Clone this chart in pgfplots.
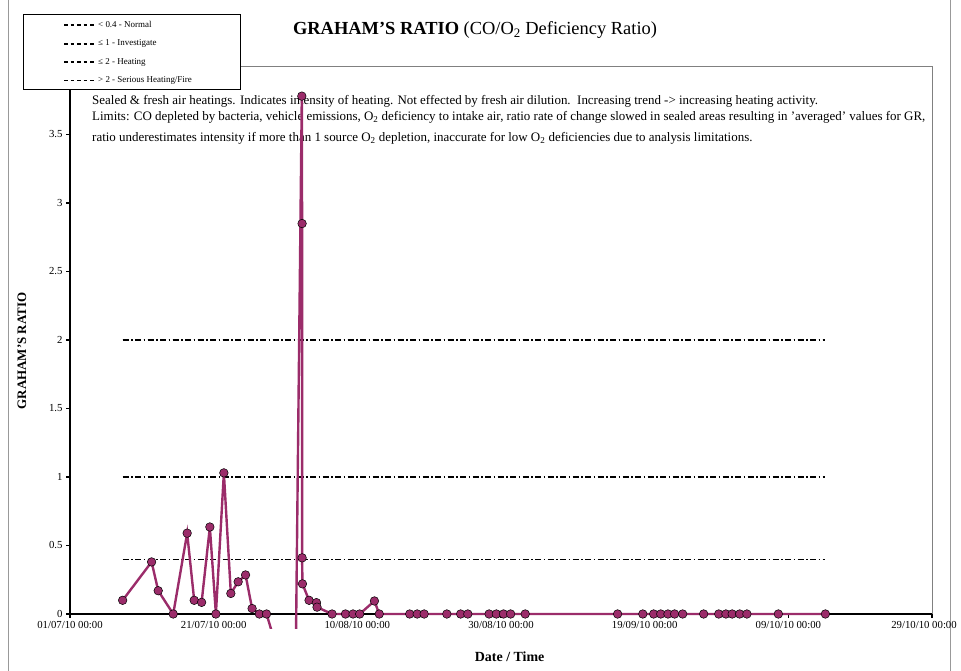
\documentclass[border=0pt]{standalone}
\usepackage{pgfplots}
\pgfplotsset{compat=1.18}
\usepackage{fontspec}
\setmainfont{Liberation Serif}
\definecolor{plum}{HTML}{9B2C6A}
\pgfplotstableread{
x y
7.33 0.10
11.36 0.38
12.28 0.17
14.37 0
16.31 0.59
17.29 0.10
18.32 0.085
19.47 0.635
20.31 0
21.42 1.03
22.39 0.15
23.41 0.235
24.44 0.285
25.35 0.04
26.36 0
27.36 0
31.35 -0.70
32.27 3.78
32.31 2.85
32.31 0.41
32.36 0.22
33.28 0.10
34.31 0.083
34.39 0.05
36.48 0
38.35 0
39.40 0
40.33 0
42.38 0.095
43.05 0
47.29 0
48.33 0
49.30 0
52.46 0
54.38 0
55.38 0
58.34 0
59.35 0
60.35 0
61.34 0
63.37 0
76.23 0
79.74 0
81.25 0
82.24 0
83.24 0
84.17 0
85.29 0
88.21 0
90.31 0
91.31 0
92.18 0
93.23 0
94.23 0
98.61 0
105.16 0
}\grdata
\begin{document}
\begin{tikzpicture}[x=1bp,y=1bp]
\path[use as bounding box] (0,0) rectangle (961,671);
\draw[gray!80, line width=0.8bp] (8,0) -- (8,671);
\draw[gray!80, line width=0.8bp] (950,0) -- (950,671);
\begin{scope}[every node/.style={anchor=base west, inner sep=0pt, font=\fontsize{13}{15}\selectfont}]
\node at (92,566.5) {Sealed \& fresh air heatings. Indicates intensity of heating. Not effected by fresh air dilution.\ \ Increasing trend -> increasing heating activity.};
\node at (92,550.5) {Limits: CO depleted by bacteria, vehicle emissions, O\textsubscript{2} deficiency to intake air, ratio rate of change slowed in sealed areas resulting in 'averaged' values for GR,};
\node at (92,529) {ratio underestimates intensity if more than 1 source O\textsubscript{2} depletion, inaccurate for low O\textsubscript{2} deficiencies due to analysis limitations.};
\end{scope}
\node[font=\fontsize{18.5}{21}\selectfont] at (475,641) {\textbf{GRAHAM'S RATIO} (CO/O\textsubscript{2} Deficiency Ratio)};
\begin{axis}[
  at={(70bp,57bp)}, anchor=south west,
  scale only axis, width=862bp, height=548bp,
  xmin=0, xmax=120, ymin=0, ymax=4,
  clip=false,
  axis lines=left,
  axis line style={-, black, line width=2.6bp},
  x axis line style={-}, y axis line style={-},
  xtick={0,20,...,120},
  xticklabels={01/07/10 00:00, 21/07/10 00:00, 10/08/10 00:00, 30/08/10 00:00, 19/09/10 00:00, 09/10/10 00:00, 29/10/10 00:00\hspace*{16bp}},
  ytick={0,0.5,...,3.5},
  tick align=outside,
  major tick length=4bp,
  tick style={black, line width=1.4bp},
  /pgf/number format/assume math mode=true,
  ticklabel style={font=\fontsize{10.8}{12}\selectfont},
  ylabel={\textbf{GRAHAM'S RATIO}},
  ylabel style={at={(axis description cs:-0.0557,0.48)}, anchor=center, font=\fontsize{13}{15}\selectfont},
  xlabel={\textbf{Date / Time}},
  xlabel style={at={(axis description cs:0.51,-0.0785)}, anchor=center, font=\fontsize{14}{16}\selectfont},
  legend style={at={(axis description cs:-0.0081,1.0840)}, anchor=north west, draw=none, fill=none,
    inner sep=0pt, row sep=9bp, font=\fontsize{9}{10}\selectfont,
    nodes={inner sep=1bp}},
  legend cell align=left,
  /tikz/every even column/.append style={column sep=14bp},
]
\addplot[black, line width=1.3bp, dash pattern=on 6bp off 2.5bp on 1.5bp off 2.5bp,
  legend image code/.code={\draw[black,line width=1.1bp,dash pattern=on 3.5bp off 3bp] (0bp,0bp)--(32bp,0bp);}]
  coordinates {(7.33,0.4) (105.16,0.4)};
\addlegendentry{< 0.4 - Normal}
\addplot[black, line width=1.3bp, dash pattern=on 6bp off 2.5bp on 1.5bp off 2.5bp,
  legend image code/.code={\draw[black,line width=2bp,dash pattern=on 3.5bp off 3bp] (0bp,0bp)--(32bp,0bp);}]
  coordinates {(7.33,1) (105.16,1)};
\addlegendentry{≤ 1 - Investigate}
\addplot[black, line width=1.3bp, dash pattern=on 6bp off 2.5bp on 1.5bp off 2.5bp,
  legend image code/.code={\draw[black,line width=2bp,dash pattern=on 3.5bp off 3bp] (0bp,0bp)--(32bp,0bp);}]
  coordinates {(7.33,2) (105.16,2)};
\addlegendentry{≤ 2 - Heating}
\addplot[black, line width=1.3bp, dash pattern=on 6bp off 2.5bp on 1.5bp off 2.5bp,
  legend image code/.code={\draw[black,line width=1.1bp,dash pattern=on 3.5bp off 3bp] (0bp,0bp)--(32bp,0bp);}]
  coordinates {(7.33,2) (105.16,2)};
\addlegendentry{> 2 - Serious Heating/Fire}
\draw[gray, line width=0.6bp] (rel axis cs:0,1) -- (rel axis cs:1,1) -- (rel axis cs:1,0);
\begin{scope}
\clip (rel axis cs:0,-0.026) rectangle (rel axis cs:1,1.1);
\addplot[plum, line width=2.4bp, mark=*, mark size=4.3bp,
  mark options={fill=plum, draw=black, line width=0.5bp, solid}, forget plot]
  table[x=x, y=y] {\grdata};
\end{scope}
\draw[black, fill=white, line width=0.8bp] (rel axis cs:-0.05452,1.09489) rectangle (rel axis cs:0.19722,0.95803);
\end{axis}
\end{tikzpicture}
\end{document}
